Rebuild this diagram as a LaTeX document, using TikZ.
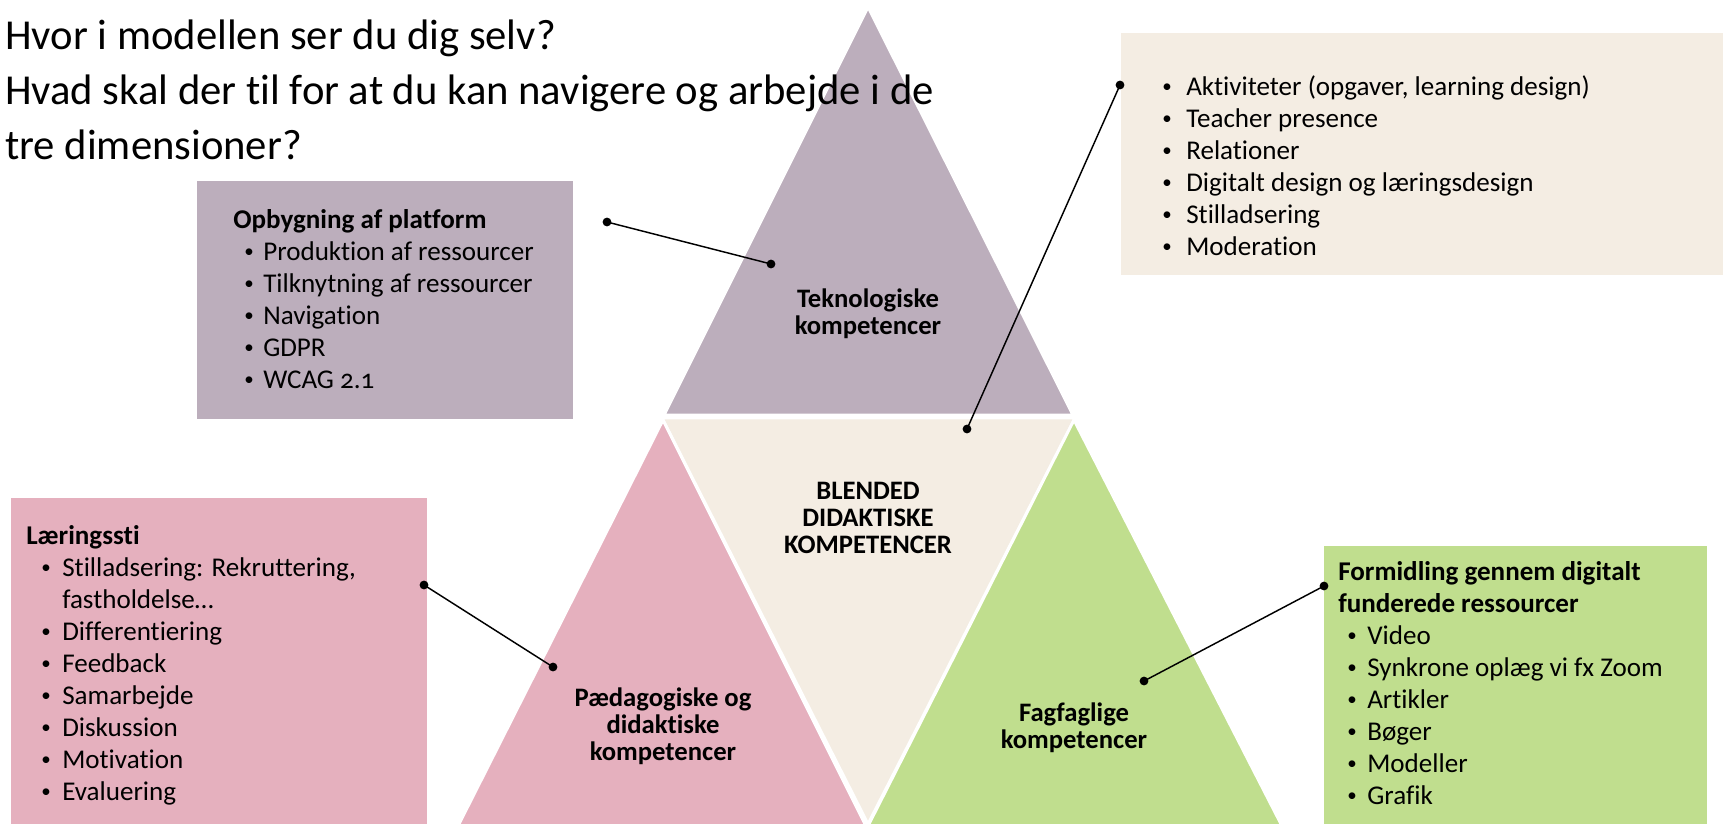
\documentclass[tikz,border=0pt]{standalone}
\usepackage{graphicx}
\usepackage{fontspec}
\setmainfont{Carlito}[Ligatures=NoCommon]
\definecolor{cpurple}{RGB}{188,174,188}
\definecolor{cbeige}{RGB}{244,237,227}
\definecolor{cpink}{RGB}{229,176,190}
\definecolor{cgreen}{RGB}{192,222,142}
\newcommand\smbul{\raisebox{0.1em}{\scalebox{0.7}{\textbullet}}}
\newcommand\itm[3]{\hspace*{#1}\makebox[#2][l]{\smbul}#3}
\begin{document}
\begin{tikzpicture}[x=0.75pt,y=-0.75pt,
  tri/.style={draw=white,line width=2.2pt,line join=miter},
  boxtext/.style={anchor=north west,inner sep=0pt,align=left,font=\fontsize{20.3pt}{24pt}\selectfont},
  trilabel/.style={anchor=north,inner sep=0pt,align=center,font=\fontsize{20pt}{20.25pt}\selectfont\bfseries},
  conn/.style={line width=1.1pt,black},
  dot/.style={fill=black}
]
\useasboundingbox (0,0) rectangle (1723,824);
\fill[white] (0,0) rectangle (1723,824);

% boxes
\fill[cpurple] (197,181) rectangle (573,419);
\fill[cbeige] (1121,33) rectangle (1723,275);
\fill[cpink] (11,498) rectangle (427,824);
\fill[cgreen] (1324,546) rectangle (1707,824);

% triangles
\path[tri,fill=cpurple] (868,7) -- (1073,415) -- (664,415) -- cycle;
\path[tri,fill=cbeige] (662,418) -- (1075,418) -- (868,824) -- cycle;
\path[tri,fill=cpink] (663,420) -- (866,826) -- (458,826) -- cycle;
\path[tri,fill=cgreen] (1074,420) -- (1282,826) -- (868,826) -- cycle;

% title
\node[anchor=north west,inner sep=0pt,align=left,font=\fontsize{32pt}{41.25pt}\selectfont] (title) at (5,11)
 {\strut Hvor i modellen ser du dig selv?\\Hvad skal der til for at du kan navigere og arbejde i de\\tre dimensioner?};

% triangle labels
\node[trilabel] (tek) at (868,288.5) {\strut Teknologiske\\kompetencer};
\node[trilabel] (blend) at (868,480) {\strut BLENDED\\DIDAKTISKE\\KOMPETENCER};
\node[trilabel] (paed) at (663,687) {\strut Pædagogiske og\\didaktiske\\kompetencer};
\node[trilabel] (fag) at (1074,702) {\strut Fagfaglige\\kompetencer};

% box texts
\node[boxtext] (ptext) at (233,205.6) {\strut\textbf{Opbygning af platform}\\
 \itm{8.25pt}{14.25pt}{Produktion af ressourcer}\\
 \itm{8.25pt}{14.25pt}{Tilknytning af ressourcer}\\
 \itm{8.25pt}{14.25pt}{Navigation}\\
 \itm{8.25pt}{14.25pt}{GDPR}\\
 \itm{8.25pt}{14.25pt}{WCAG {\addfontfeatures{Numbers=OldStyle}2.1}}};

\node[boxtext] (btext) at (1162,72.6) {\strut\itm{0pt}{18pt}{Aktiviteter (opgaver, learning design)}\\
 \itm{0pt}{18pt}{Teacher presence}\\
 \itm{0pt}{18pt}{Relationer}\\
 \itm{0pt}{18pt}{Digitalt design og læringsdesign}\\
 \itm{0pt}{18pt}{Stilladsering}\\
 \itm{0pt}{18pt}{Moderation}};

\node[boxtext] (ktext) at (26,521.6) {\strut\textbf{Læringssti}\\
 \itm{11.25pt}{15.75pt}{Stilladsering: Rekruttering,}\\
 \hspace*{27pt}fastholdelse…\\
 \itm{11.25pt}{15.75pt}{Differentiering}\\
 \itm{11.25pt}{15.75pt}{Feedback}\\
 \itm{11.25pt}{15.75pt}{Samarbejde}\\
 \itm{11.25pt}{15.75pt}{Diskussion}\\
 \itm{11.25pt}{15.75pt}{Motivation}\\
 \itm{11.25pt}{15.75pt}{Evaluering}};

\node[boxtext] (gtext) at (1338,557.6) {\strut\textbf{Formidling gennem digitalt}\\
 \textbf{funderede ressourcer}\\
 \itm{6.75pt}{15pt}{Video}\\
 \itm{6.75pt}{15pt}{Synkrone oplæg vi fx Zoom}\\
 \itm{6.75pt}{15pt}{Artikler}\\
 \itm{6.75pt}{15pt}{Bøger}\\
 \itm{6.75pt}{15pt}{Modeller}\\
 \itm{6.75pt}{15pt}{Grafik}};

% connectors
\coordinate (p1) at (607,222); \coordinate (p2) at (771,264);
\coordinate (b1) at (1120,85); \coordinate (b2) at (967,429);
\coordinate (k1) at (424,585); \coordinate (k2) at (553,667);
\coordinate (g1) at (1324,586); \coordinate (g2) at (1144,681);
\foreach \a/\b in {p1/p2,b1/b2,k1/k2,g1/g2}{
  \draw[conn] (\a) -- (\b);
  \fill[dot] (\a) circle (3.3pt);
  \fill[dot] (\b) circle (3.3pt);
}
\end{tikzpicture}
\end{document}
